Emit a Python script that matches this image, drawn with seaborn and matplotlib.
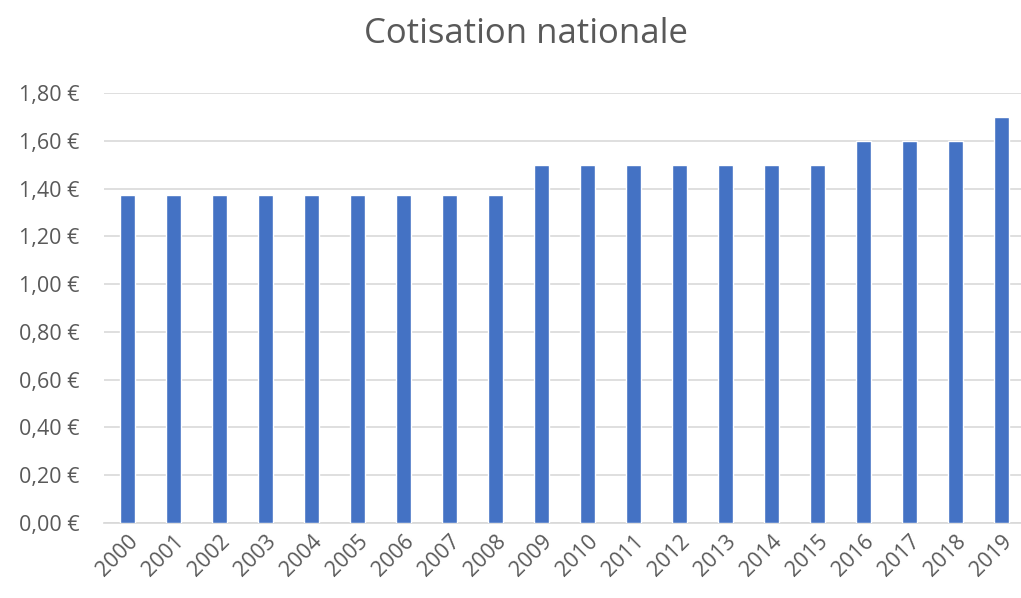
import matplotlib
matplotlib.use("Agg")
import matplotlib.pyplot as plt
import seaborn as sns
import pandas as pd

# donnees
annees = [str(a) for a in range(2000, 2020)]
cotisation = [1.372] * 9 + [1.50] * 7 + [1.60] * 3 + [1.70]
yticks = [0.0, 0.2, 0.4, 0.6, 0.8, 1.0, 1.2, 1.4, 1.6, 1.8]

df = pd.DataFrame({"annee": annees, "cotisation": cotisation})

sns.set_theme(style="white")
plt.rcParams['font.family'] = ['Open Sans', 'DejaVu Sans']

gris = "#595959"
fig = plt.figure(figsize=(10.21, 5.98), dpi=100)
ax = fig.add_axes([0.102, 0.1254, 0.898, 0.7191])

sns.barplot(data=df, x="annee", y="cotisation", color="#4472C4",
            width=0.33, saturation=1, ax=ax, zorder=3)

ax.set_ylim(0, 1.8)
ax.set_xlim(-0.5, 19.42)
ax.set_yticks(yticks)
ax.set_yticklabels([f"{v:.2f} €".replace(".", ",") for v in yticks])
ax.yaxis.grid(True, color="#D9D9D9", linewidth=1.2, zorder=0)
for s in ["top", "right", "left"]:
    ax.spines[s].set_visible(False)
ax.spines["bottom"].set_color("#D9D9D9")
ax.tick_params(axis="both", colors=gris, labelsize=15.5, length=0)
ax.tick_params(axis="y", pad=18)
ax.tick_params(axis="x", pad=6)
plt.setp(ax.get_xticklabels(), rotation=45, ha="right", rotation_mode="anchor")
ax.set_xlabel("")
ax.set_ylabel("")
fig.text(0.515, 0.943, "Cotisation nationale", ha="center", va="center",
         fontsize=25, color=gris)

fig.savefig("out.png", dpi=100)
